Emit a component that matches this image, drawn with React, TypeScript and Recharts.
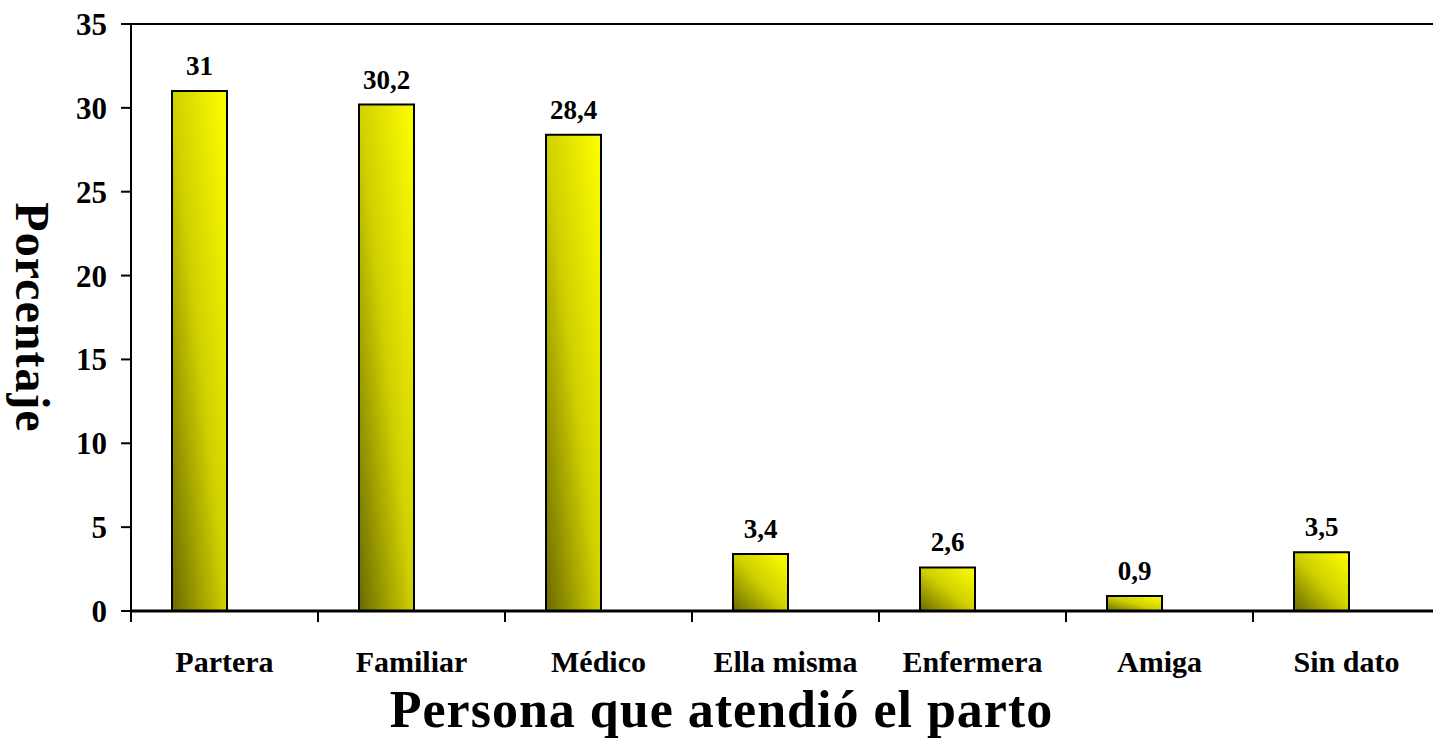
import React from 'react';
import { BarChart, Bar, XAxis, YAxis, LabelList, ReferenceLine, Label } from 'recharts';

const categories = ['Partera', 'Familiar', 'Médico', 'Ella misma', 'Enfermera', 'Amiga', 'Sin dato'];
const porcentajes = [31, 30.2, 28.4, 3.4, 2.6, 0.9, 3.5];
const yTicks = [0, 5, 10, 15, 20, 25, 30, 35];

const data = categories.map((c, i) => ({ name: c, valor: porcentajes[i], vacio: null as number | null }));

const FONT = '"Liberation Serif", "Times New Roman", serif';

const fmt = (v: any) => String(v).replace('.', ',');

const YTitle = (props: any) => {
  const vb = props.viewBox || {};
  const cx = vb.x + 32;
  const cy = vb.y + vb.height / 2;
  return (
    <text x={cx} y={cy} transform={`rotate(90, ${cx}, ${cy})`} textAnchor="middle" dominantBaseline="central"
      fontFamily={FONT} fontWeight="bold" fontSize={48} letterSpacing={1} fill="#000">Porcentaje</text>
  );
};

const XTitle = (props: any) => {
  const vb = props.viewBox || {};
  const cx = vb.x + vb.width / 2 - 64;
  return (
    <text x={cx} y={vb.y + 116} textAnchor="middle" fontFamily={FONT} fontWeight="bold" fontSize={52} letterSpacing={1} fill="#000">
      Persona que atendió el parto
    </text>
  );
};

const CategoryTick = (props: any) => {
  const { x, y, payload, index, visibleTicksCount } = props;
  const half = payload && payload.offset ? payload.offset : 93.5;
  const left = x - half;
  const right = x + half;
  const isLast = index === (visibleTicksCount ? visibleTicksCount - 1 : categories.length - 1);
  return (
    <g>
      <line x1={left} y1={y} x2={left} y2={y + 11} stroke="#000" strokeWidth={2} />
      {isLast && <line x1={right} y1={y} x2={right} y2={y + 11} stroke="#000" strokeWidth={2} />}
      <text x={x} y={y + 61} textAnchor="middle" fontFamily={FONT} fontWeight="bold" fontSize={30} fill="#000">
        {payload.value}
      </text>
    </g>
  );
};

export default function App() {
  return (
    <div style={{ position: 'fixed', left: 0, top: 0, width: 1433, height: 755, overflow: 'hidden', background: '#fff' }}>
      <BarChart width={1460} height={755} data={data} margin={{ top: 24, right: 20, left: 0, bottom: 0 }}
        barSize={55} barGap={-4}>
        <defs>
          <linearGradient id="barGrad" x1="0" y1="1" x2="1" y2="0">
            <stop offset="0" stopColor="#6a6a00" />
            <stop offset="0.5" stopColor="#d0d000" />
            <stop offset="1" stopColor="#ffff00" />
          </linearGradient>
        </defs>
        <YAxis type="number" domain={[0, 35]} ticks={yTicks} width={131} interval={0}
          axisLine={{ stroke: '#000', strokeWidth: 2 }} tickLine={{ stroke: '#000', strokeWidth: 2 }} tickSize={10} tickMargin={14}
          tick={{ fontFamily: FONT, fontWeight: 'bold', fontSize: 31, fill: '#000' }}>
          <Label content={<YTitle />} />
        </YAxis>
        <XAxis dataKey="name" height={144} interval={0} tickSize={0} tickMargin={0} tickLine={false}
          axisLine={{ stroke: '#000', strokeWidth: 3 }} tick={<CategoryTick />}>
          <Label content={<XTitle />} />
        </XAxis>
        <ReferenceLine y={35} stroke="#000" strokeWidth={2} />
        <Bar dataKey="valor" fill="url(#barGrad)" stroke="#000" strokeWidth={2} isAnimationActive={false}>
          <LabelList dataKey="valor" position="top" offset={16} formatter={fmt}
            style={{ fontFamily: FONT, fontWeight: 'bold', fontSize: 27, fill: '#000' }} />
        </Bar>
        <Bar dataKey="vacio" fill="none" isAnimationActive={false} />
      </BarChart>
    </div>
  );
}
